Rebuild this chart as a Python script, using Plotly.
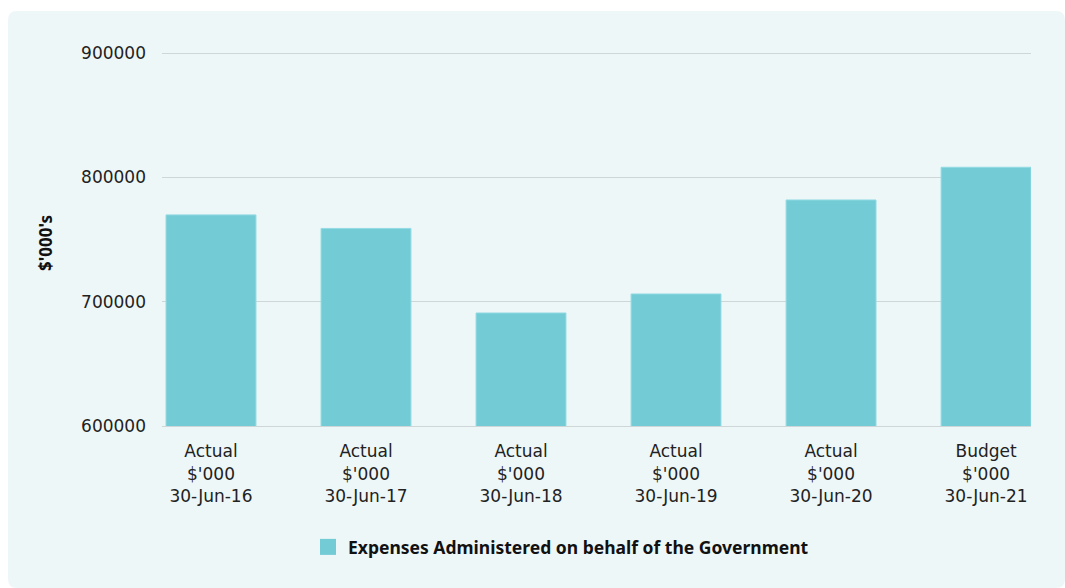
import plotly.graph_objects as go

categories = ["Actual<br>$'000<br>30-Jun-16", "Actual<br>$'000<br>30-Jun-17", "Actual<br>$'000<br>30-Jun-18",
              "Actual<br>$'000<br>30-Jun-19", "Actual<br>$'000<br>30-Jun-20", "Budget<br>$'000<br>30-Jun-21"]
values = [769800, 758900, 690900, 706200, 781800, 808100]
series_name = "Expenses Administered on behalf of the Government"
y_ticks = [600000, 700000, 800000, 900000]

W, H = 1065, 588
L, R, T, B = 162, 34, 51, 162
pw, ph = W - L - R, H - T - B
# 2px padding above the 900000 line so its gridline is drawn
PAD = 2 * 300000 / 373

def px(x):
    return (x - L) / pw

def py(y):
    return (H - B - y) / ph

FONT = "Noto Sans"
TICKFONT = "DejaVu Sans"
BAR = "#72cbd5"
GRID = "#cfd6d7"

fig = go.Figure()
fig.add_trace(go.Bar(
    x=categories, y=values, name=series_name,
    marker=dict(color=BAR, line=dict(color="#93dbe2", width=1)),
    showlegend=False,
))
# legend entry with a larger square swatch
fig.add_trace(go.Scatter(
    x=[None], y=[None], mode="markers", name=series_name,
    marker=dict(symbol="square", size=16, color=BAR, line=dict(width=0)),
    showlegend=True, hoverinfo="skip",
))

# rounded background panel
x0, y0, x1, y1, r = 8, 11, 1065, 588, 9
path = (f"M {px(x0)},{py(y0 + r)} Q {px(x0)},{py(y0)} {px(x0 + r)},{py(y0)} "
        f"L {px(x1 - r)},{py(y0)} Q {px(x1)},{py(y0)} {px(x1)},{py(y0 + r)} "
        f"L {px(x1)},{py(y1 - r)} Q {px(x1)},{py(y1)} {px(x1 - r)},{py(y1)} "
        f"L {px(x0 + r)},{py(y1)} Q {px(x0)},{py(y1)} {px(x0)},{py(y1 - r)} Z")
fig.add_shape(type="path", path=path, xref="paper", yref="paper",
              fillcolor="#eef7f8", line=dict(width=0), layer="below")

fig.add_annotation(text="<b>$'000's</b>", x=px(45), y=py(243), xref="paper", yref="paper",
                   xanchor="center", yanchor="middle",
                   textangle=-90, showarrow=False, font=dict(family=FONT, size=17, color="#111"))

fig.update_layout(
    width=W, height=H,
    margin=dict(l=L, r=R, t=T, b=B),
    paper_bgcolor="white", plot_bgcolor="rgba(0,0,0,0)",
    font=dict(family=FONT, size=16, color="#222"),
    bargap=0.42,
    legend=dict(orientation="h", x=px(561), y=py(547), xanchor="center", yanchor="middle",
                font=dict(family=FONT, size=17.5, color="#111", weight="bold"),
                itemwidth=30, bgcolor="rgba(0,0,0,0)"),
    xaxis=dict(range=[-0.316, 5.29], showgrid=False, showline=True, linecolor=GRID, linewidth=1,
               zeroline=False, ticks="", ticklabelstandoff=10,
               tickfont=dict(family=TICKFONT, size=17, color="#222")),
    yaxis=dict(range=[600000, 900000 + PAD], tickvals=y_ticks, ticktext=[str(v) for v in y_ticks],
               showgrid=True, gridcolor=GRID, gridwidth=1, zeroline=False, showline=False,
               ticks="", ticklabelstandoff=15, tickfont=dict(family=TICKFONT, size=17, color="#222")),
)

fig.write_html("out.html", config={"displayModeBar": False},
               post_script="document.body.style.margin='0';document.body.style.overflow='hidden';")
